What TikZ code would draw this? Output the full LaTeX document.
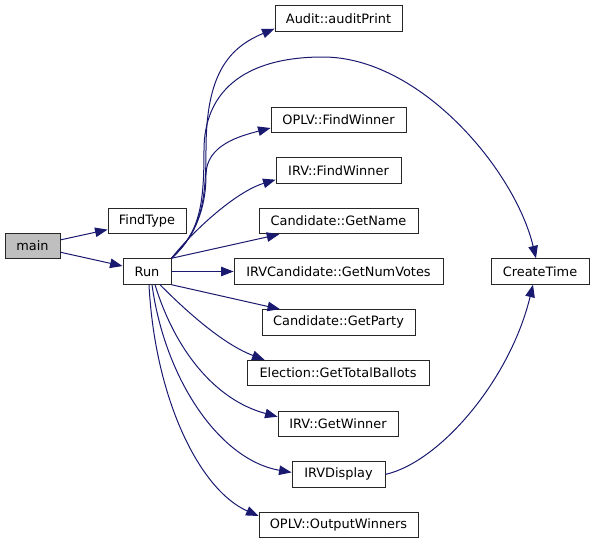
\documentclass[tikz,border=0pt]{standalone}
\usepackage{fontspec}
\setmainfont{DejaVu Sans}
\usetikzlibrary{arrows.meta}
\definecolor{edgeblue}{RGB}{25,25,112}
\definecolor{rootgray}{RGB}{191,191,191}

\begin{document}
\begin{tikzpicture}[x=1pt, y=-1pt,
  fn/.style={draw=black!85, fill=white, line width=0.9pt, minimum height=25.5pt, inner sep=0pt, font=\fontsize{12.9}{15}\selectfont},
  root/.style={fn, fill=rootgray},
  call/.style={color=edgeblue, line width=1pt, -{Triangle[length=12.5pt, width=9.5pt]}}]
  \useasboundingbox (0,0) rectangle (595,544);
  \node[root, minimum width=55pt] (main) at (32.5,246) {main};
  \node[fn, minimum width=78pt] (findtype) at (147,221) {FindType};
  \node[fn, minimum width=48pt] (run) at (147,271.5) {Run};
  \node[fn, minimum width=127pt] (auditprint) at (338.5,18.5) {Audit::auditPrint};
  \node[fn, minimum width=135pt] (oplvfind) at (338.5,119.8) {OPLV::FindWinner};
  \node[fn, minimum width=125pt] (irvfind) at (338.5,170.5) {IRV::FindWinner};
  \node[fn, minimum width=159pt] (getname) at (338.5,221.1) {Candidate::GetName};
  \node[fn, minimum width=209pt] (getnumvotes) at (338.5,271.5) {IRVCandidate::GetNumVotes};
  \node[fn, minimum width=153pt] (getparty) at (338.5,322.4) {Candidate::GetParty};
  \node[fn, minimum width=182pt] (gettotal) at (338,373) {Election::GetTotalBallots};
  \node[fn, minimum width=120pt] (irvwinner) at (338,423.7) {IRV::GetWinner};
  \node[fn, minimum width=93pt] (irvdisplay) at (338.5,474.4) {IRVDisplay};
  \node[fn, minimum width=159pt] (oplvout) at (338.5,525) {OPLV::OutputWinners};
  \node[fn, minimum width=98pt] (createtime) at (540,271.5) {CreateTime};
  \draw[call] (main) -- (findtype);
  \draw[call] (main) -- (run);
  \draw[call] (run.north east) .. controls (200,232) and (206,205) .. (206,150)
    .. controls (206,75) and (228,48) .. ([yshift=3pt]auditprint.south west);
  \draw[call] (run.north east) .. controls (200,232) and (204,205) .. (204,150)
    .. controls (204,95) and (240,57) .. (323,57)
    .. controls (420,57) and (515,170) .. ([xshift=-4pt]createtime.north);
  \draw[call] (run.north east) .. controls (200,232) and (206,200) .. (206,175)
    .. controls (206,145) and (240,136) .. ([yshift=5pt]oplvfind.south west);
  \draw[call] (run.north east) .. controls (192,232) and (235,192) .. ([yshift=4pt]irvfind.south west);
  \draw[call] (run.north east) -- (getname);
  \draw[call] (run) -- (getnumvotes);
  \draw[call] (run.south east) -- (getparty);
  \draw[call] ([xshift=13pt]run.south) .. controls (190,315) and (225,345) .. ([xshift=18pt]gettotal.north west);
  \draw[call] ([xshift=8pt]run.south) .. controls (175,350) and (215,400) .. ([yshift=7pt]irvwinner.west);
  \draw[call] ([xshift=5pt]run.south) .. controls (165,380) and (220,460) .. ([yshift=2pt]irvdisplay.west);
  \draw[call] ([xshift=2pt]run.south) .. controls (155,400) and (200,490) .. ([yshift=9pt]oplvout.west);
  \draw[call] (irvdisplay.east) .. controls (440,462) and (510,380) .. ([xshift=-7pt]createtime.south);
\end{tikzpicture}
\end{document}
